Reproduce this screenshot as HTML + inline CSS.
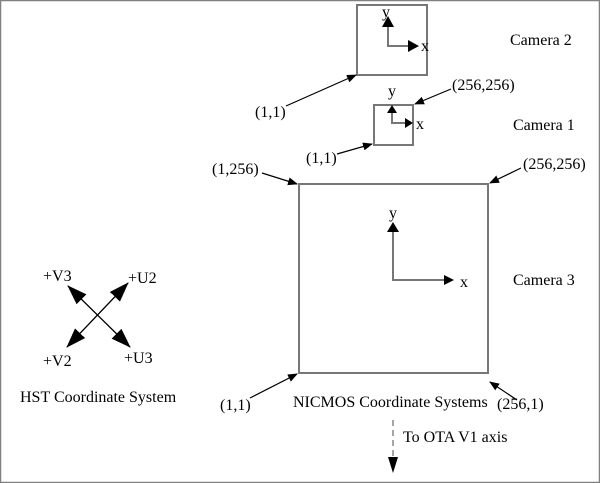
<!DOCTYPE html>
<html><head><style>
html,body{margin:0;padding:0;background:#fff}
svg{display:block}
text{font-family:"Liberation Serif",serif;font-size:16px;fill:#000}
</style></head><body>
<svg width="600" height="483" viewBox="0 0 600 483" xmlns="http://www.w3.org/2000/svg">
<defs>
<marker id="a" markerWidth="10" markerHeight="8" refX="9" refY="4" orient="auto" markerUnits="userSpaceOnUse"><path d="M0,0 L10,4 L0,8 z" fill="#000"/></marker>
<marker id="c" markerWidth="20" markerHeight="14" refX="19" refY="7" orient="auto" markerUnits="userSpaceOnUse"><path d="M0,0 L20,7 L0,14 z" fill="#000"/></marker>
</defs>
<rect x="0.5" y="0.5" width="599" height="482" fill="none" stroke="#808080" stroke-width="1.5"/>
<g stroke="#777" stroke-width="2" fill="none">
<rect x="357" y="5" width="70" height="70"/>
<rect x="374" y="105" width="39" height="40"/>
<rect x="299" y="184" width="189" height="189"/>
</g>
<g stroke="#777" stroke-width="2" fill="none">
<polyline points="388,20 388,46 413,46"/>
<polyline points="392,110 392,123 409,123"/>
<polyline points="393,226 393,280 450,280"/>
</g>
<g fill="#000">
<path d="M388,16 L382,27 L394,27z"/><path d="M419,46 L408,40 L408,52z"/>
<path d="M392,105 L387,113 L397,113z"/><path d="M413,123 L405,118 L405,128z"/>
<path d="M393,222 L387,232 L399,232z"/><path d="M454,280 L444,275 L444,285z"/>
</g>
<g stroke="#000" stroke-width="1.2" fill="none" marker-end="url(#a)">
<line x1="286" y1="106" x2="356" y2="75"/>
<line x1="451" y1="89" x2="415" y2="104"/>
<line x1="337" y1="154" x2="372" y2="144"/>
<line x1="262" y1="173" x2="297" y2="184"/>
<line x1="521" y1="168" x2="490" y2="183"/>
<line x1="250" y1="398" x2="297" y2="374"/>
<line x1="517" y1="400" x2="490" y2="382"/>
</g>
<g stroke="#000" stroke-width="1.2" fill="none">
<line x1="130" y1="347" x2="68" y2="286" marker-end="url(#c)"/>
<line x1="68" y1="286" x2="130" y2="347" marker-end="url(#c)"/>
<line x1="67" y1="347" x2="128" y2="283" marker-end="url(#c)"/>
<line x1="128" y1="283" x2="67" y2="347" marker-end="url(#c)"/>
</g>
<line x1="393" y1="420" x2="393" y2="458" stroke="#888" stroke-width="1.5" stroke-dasharray="6,4"/>
<path d="M393,473 L388,457 L398,457z" fill="#000"/>
<text x="382" y="17">y</text><text x="421" y="51">x</text>
<text x="388" y="96">y</text><text x="416" y="129">x</text>
<text x="389" y="218">y</text><text x="460" y="287">x</text>
<text x="510" y="45">Camera 2</text>
<text x="513" y="130">Camera 1</text>
<text x="513" y="285">Camera 3</text>
<text x="255" y="117">(1,1)</text>
<text x="452" y="90">(256,256)</text>
<text x="306" y="163">(1,1)</text>
<text x="212" y="174">(1,256)</text>
<text x="523" y="169">(256,256)</text>
<text x="220" y="410">(1,1)</text>
<text x="497" y="409">(256,1)</text>
<text x="293" y="407">NICMOS Coordinate Systems</text>
<text x="403" y="442">To OTA V1 axis</text>
<text x="43" y="281">+V3</text>
<text x="128" y="283">+U2</text>
<text x="43" y="366">+V2</text>
<text x="124" y="363">+U3</text>
<text x="20" y="402">HST Coordinate System</text>
</svg>
</body></html>
